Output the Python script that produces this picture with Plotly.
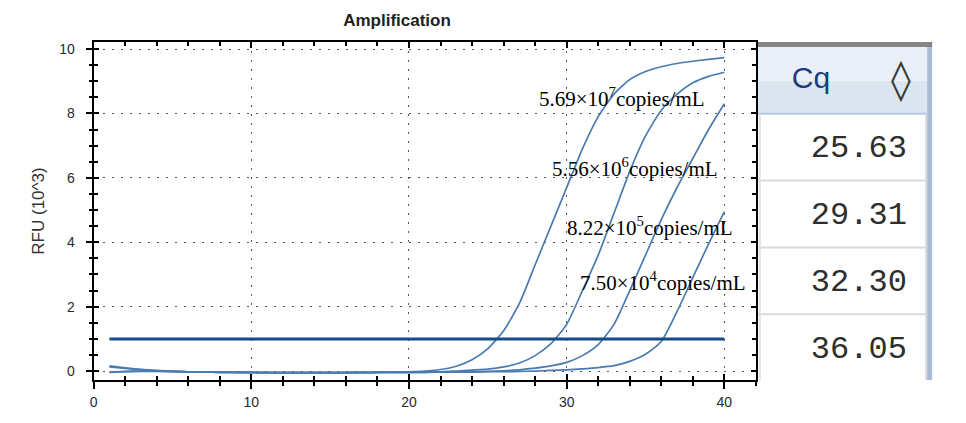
import plotly.graph_objects as go

# ---------------- data ----------------
cycles = list(range(1, 41))

rfu_5_69e7 = [0.16, 0.10, 0.05, 0.02, 0.00, -0.02, -0.03, -0.04, -0.04, -0.04,
              -0.05, -0.05, -0.05, -0.05, -0.05, -0.04, -0.04, -0.04, -0.03, -0.02,
              0.00, 0.05, 0.15, 0.35, 0.70, 1.25, 2.10, 3.30, 4.50, 5.70,
              6.90, 7.90, 8.60, 9.05, 9.30, 9.45, 9.55, 9.62, 9.68, 9.73]
rfu_5_56e6 = [-0.03, -0.01, 0.00, 0.00, -0.01, -0.02, -0.03, -0.03, -0.04, -0.04,
              -0.04, -0.05, -0.05, -0.05, -0.05, -0.05, -0.05, -0.04, -0.04, -0.04,
              -0.03, -0.02, 0.00, 0.03, 0.06, 0.13, 0.25, 0.48, 0.85, 1.45,
              2.50, 3.60, 4.90, 6.20, 7.30, 8.10, 8.60, 8.95, 9.15, 9.28]
rfu_8_22e5 = [0.13, 0.08, 0.04, 0.01, -0.01, -0.02, -0.03, -0.04, -0.04, -0.05,
              -0.05, -0.05, -0.05, -0.05, -0.05, -0.05, -0.05, -0.04, -0.04, -0.04,
              -0.04, -0.03, -0.03, -0.02, -0.01, 0.01, 0.04, 0.09, 0.16, 0.27,
              0.48, 0.82, 1.45, 2.50, 3.60, 4.70, 5.70, 6.60, 7.50, 8.30]
rfu_7_50e4 = [-0.04, -0.02, -0.01, -0.01, -0.02, -0.03, -0.03, -0.04, -0.04, -0.04,
              -0.05, -0.05, -0.05, -0.05, -0.05, -0.05, -0.04, -0.04, -0.04, -0.04,
              -0.04, -0.03, -0.03, -0.03, -0.02, -0.02, -0.01, 0.00, 0.02, 0.04,
              0.07, 0.11, 0.17, 0.30, 0.52, 0.92, 1.85, 2.90, 3.95, 4.95]

threshold = 1.0

series_labels = ["5.69×10<sup>7</sup>copies/mL", "5.56×10<sup>6</sup>copies/mL",
                 "8.22×10<sup>5</sup>copies/mL", "7.50×10<sup>4</sup>copies/mL"]
cq_header = "Cq"
cq_values = ["25.63", "29.31", "32.30", "36.05"]

x_ticks = [0, 10, 20, 30, 40]
y_ticks = [0, 2, 4, 6, 8, 10]

# ---------------- figure ----------------
# the page body has an 8px margin, so the figure is offset by 8px in the window
OFF = 8
W, H = 966 - OFF, 423 - OFF
px = lambda v: (v - OFF) / W
py = lambda v: 1 - (v - OFF) / H

CURVE = "#4a7bb0"
THR = "#174a88"

fig = go.Figure()
for ys in [rfu_5_69e7, rfu_5_56e6, rfu_8_22e5, rfu_7_50e4]:
    fig.add_trace(go.Scatter(x=cycles, y=ys, mode="lines",
                             line=dict(color=CURVE, width=1.7, shape="spline", smoothing=0.6),
                             showlegend=False, hoverinfo="skip"))

fig.add_trace(go.Scatter(x=[cycles[0], cycles[-1]], y=[threshold, threshold], mode="lines",
                         line=dict(color=THR, width=3), showlegend=False,
                         xaxis="x2", yaxis="y2", hoverinfo="skip"))

# label positions (data coords, right-anchored)
label_pos = [(38.9, 8.5), (39.7, 6.32), (40.7, 4.5), (41.5, 2.77)]
for txt, (lx, ly) in zip(series_labels, label_pos):
    fig.add_annotation(x=lx, y=ly, xref="x", yref="y", text=txt, showarrow=False,
                       xanchor="right", yanchor="middle",
                       font=dict(family="Liberation Serif", size=21, color="black"))

# ---- table decorations (drawn as shapes) ----
TL, TR = 757, 927
fig.add_shape(type="rect", xref="paper", yref="paper", layer="below",
              x0=px(TL), x1=px(TR), y0=py(380), y1=py(113),
              fillcolor="white", line=dict(width=0))
fig.add_shape(type="rect", xref="paper", yref="paper", layer="below",
              x0=px(TL), x1=px(TR), y0=py(113), y1=py(80),
              fillcolor="#dce6f1", line=dict(width=0))
fig.add_shape(type="rect", xref="paper", yref="paper", layer="below",
              x0=px(TL), x1=px(TR), y0=py(80), y1=py(46),
              fillcolor="#e9eff7", line=dict(width=0))
fig.add_shape(type="line", xref="paper", yref="paper", layer="below",
              x0=px(TL), x1=px(TR), y0=py(113), y1=py(113),
              line=dict(color="#b4c8e0", width=2))
for yy in [180, 247, 314]:
    fig.add_shape(type="line", xref="paper", yref="paper", layer="below",
                  x0=px(TL), x1=px(TR), y0=py(yy), y1=py(yy),
                  line=dict(color="#d9d9d9", width=2))
fig.add_shape(type="line", xref="paper", yref="paper", layer="below",
              x0=px(759), x1=px(759), y0=py(380), y1=py(113),
              line=dict(color="#e2e2e2", width=2))
fig.add_shape(type="line", xref="paper", yref="paper", layer="below",
              x0=px(926), x1=px(926), y0=py(380), y1=py(113),
              line=dict(color="#dadada", width=2))
fig.add_shape(type="rect", xref="paper", yref="paper", layer="below",
              x0=px(927), x1=px(932), y0=py(380), y1=py(46),
              fillcolor="#a9bbd4", line=dict(width=0))
fig.add_shape(type="rect", xref="paper", yref="paper", layer="below",
              x0=px(757), x1=px(932), y0=py(46), y1=py(41),
              fillcolor="#858585", line=dict(width=0))

# table text
fig.add_trace(go.Table(
    domain=dict(x=[px(758), px(915)], y=[py(392), py(57)]),
    header=dict(values=[cq_header], height=67, align="left",
                prefix="\u00a0\u00a0\u00a0",
                fill_color="rgba(0,0,0,0)",
                line=dict(color="rgba(0,0,0,0)", width=0),
                font=dict(family="Liberation Sans", size=30, color="#1f3a7e")),
    cells=dict(values=[cq_values], height=67, align="right",
               fill_color="rgba(0,0,0,0)",
               line=dict(color="rgba(0,0,0,0)", width=0),
               font=dict(family="Liberation Mono", size=32, color="#2e2e2e")),
))

# sort diamond in header
fig.add_annotation(x=px(901), y=py(79), xref="paper", yref="paper", text="◊",
                   showarrow=False, xanchor="center", yanchor="middle",
                   font=dict(family="DejaVu Sans", size=40, color="#3a3a3a"))

tickfont = dict(family="Liberation Sans", size=14, color="#2a2a2a")
common_x = dict(range=[0, 42], domain=[px(90), px(755)])
common_y = dict(range=[-0.28, 10.22], domain=[py(380), py(41)])

fig.update_layout(
    width=W, height=H,
    margin=dict(l=0, r=0, t=0, b=0),
    paper_bgcolor="white", plot_bgcolor="white",
    title=dict(text="<b>Amplification</b>", x=px(397), y=py(20),
               xanchor="center", yanchor="middle",
               font=dict(family="Liberation Sans", size=17, color="#222")),
    xaxis=dict(**common_x, tickmode="array", tickvals=x_ticks, ticks="outside",
               ticklen=7, tickwidth=1.5, tickcolor="black",
               minor=dict(dtick=2, ticks="outside", ticklen=4, tickwidth=1.5, tickcolor="black", showgrid=False),
               showline=True, linecolor="black", linewidth=2, mirror=True,
               showgrid=True, gridcolor="#555", gridwidth=1.2, griddash="2px,7px",
               zeroline=False, tickfont=tickfont, ticklabelstandoff=1),
    yaxis=dict(**common_y, tickmode="array", tickvals=y_ticks, ticks="outside",
               ticklen=6, tickwidth=1.5, tickcolor="black",
               minor=dict(dtick=0.5, ticks="outside", ticklen=3, tickwidth=1.5, tickcolor="black", showgrid=False),
               showline=True, linecolor="black", linewidth=2, mirror=True,
               showgrid=True, gridcolor="#555", gridwidth=1.2, griddash="2px,7px",
               zeroline=False, tickfont=tickfont, ticklabelstandoff=8,
               title=dict(text="RFU (10^3)", standoff=10,
                          font=dict(family="Liberation Sans", size=17, color="#333"))),
    xaxis2=dict(**common_x, overlaying="x", matches="x", side="bottom",
                tickmode="array", tickvals=x_ticks, ticks="inside", ticklen=6, tickwidth=1.5,
                tickcolor="black", mirror="allticks", showline=True, linecolor="black", linewidth=2,
                minor=dict(dtick=2, ticks="inside", ticklen=4, tickwidth=1.5, tickcolor="black"),
                showticklabels=False, showgrid=False, zeroline=False),
    yaxis2=dict(**common_y, overlaying="y", matches="y", side="left",
                tickmode="array", tickvals=y_ticks, ticks="inside", ticklen=5, tickwidth=1.5,
                tickcolor="black", mirror="allticks", showline=True, linecolor="black", linewidth=2,
                minor=dict(dtick=0.5, ticks="inside", ticklen=4, tickwidth=1.5, tickcolor="black"),
                showticklabels=False, showgrid=False, zeroline=False),
)

fig.write_html("out.html")
